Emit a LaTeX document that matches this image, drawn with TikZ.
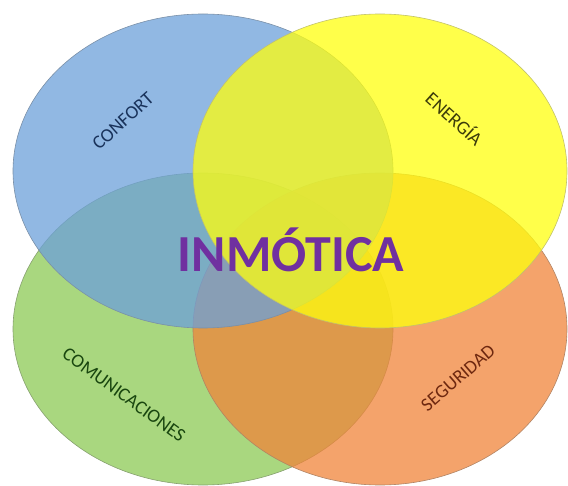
\documentclass[tikz,border=0pt]{standalone}
\usepackage{fontspec}
\setmainfont{Carlito}
\usetikzlibrary{shapes.geometric}
\definecolor{cblue}{RGB}{108,160,218}
\definecolor{cyellow}{RGB}{255,255,14}
\definecolor{cgreen}{RGB}{140,202,84}
\definecolor{corange}{RGB}{240,132,58}
\definecolor{tblue}{RGB}{25,50,90}
\definecolor{tyellow}{RGB}{60,60,10}
\definecolor{tgreen}{RGB}{25,70,15}
\definecolor{torange}{RGB}{110,40,15}
\definecolor{tpurple}{RGB}{112,48,160}
\tikzset{
  venn/.style={ellipse, inner sep=0pt, fill opacity=0.75, line width=0.6pt},
  lbl/.style={font=\fontsize{19}{21}\selectfont, inner sep=0pt},
}
\begin{document}
\begin{tikzpicture}[x=1pt,y=-1pt]
\useasboundingbox (0,0) rectangle (568,486);
\node[venn, fill=cgreen, draw=cgreen!60!black!70, minimum width=380pt, minimum height=312pt] (green) at (203,329) {};
\node[venn, fill=corange, draw=corange!60!black!70, minimum width=374pt, minimum height=312pt] (orange) at (380,329) {};
\node[venn, fill=cblue, draw=cblue!60!black!70, minimum width=380pt, minimum height=314pt] (blue) at (203,171) {};
\node[venn, fill=cyellow, draw=cyellow!60!black!60, minimum width=374pt, minimum height=314pt] (yellow) at (380,171) {};
\node[lbl, text=tblue, rotate=42] (confort) at (123,121) {CONFORT};
\node[lbl, text=tyellow, rotate=-42] (energia) at (455,118) {ENERGÍA};
\node[lbl, text=tgreen, rotate=-36] (comunic) at (124,395) {COMUNICACIONES};
\node[lbl, text=torange, rotate=41] (seguridad) at (458,378) {SEGURIDAD};
\node[font=\bfseries\fontsize{52}{58}\selectfont, text=tpurple, inner sep=0pt] (inmotica) at (291,250) {INMÓTICA};
\end{tikzpicture}
\end{document}
